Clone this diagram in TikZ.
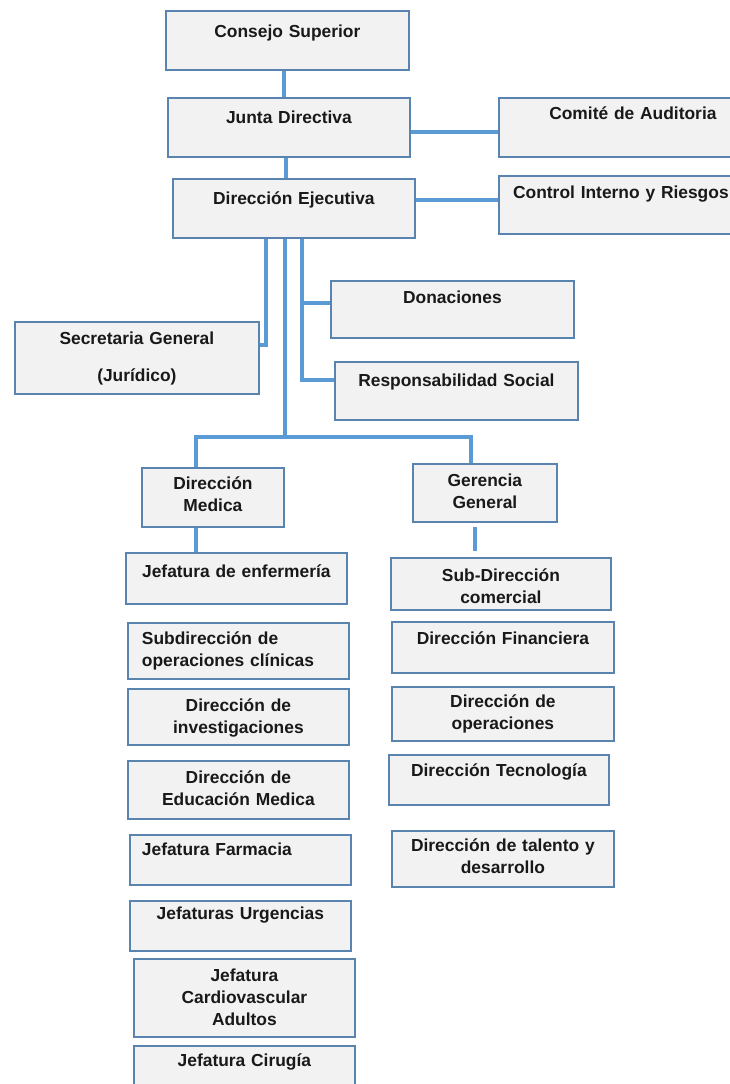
\documentclass[tikz,border=0pt]{standalone}
\usepackage{fontspec}
\setmainfont{Liberation Sans}
\usetikzlibrary{calc}
\definecolor{boxline}{HTML}{5A84B0}
\definecolor{boxfill}{HTML}{F2F2F2}
\definecolor{conncol}{HTML}{5B9BD5}
\begin{document}
\begin{tikzpicture}[x=1pt,y=-1pt,
  box/.style={draw=boxline, line width=1.8pt, fill=boxfill, inner sep=0pt, anchor=north west,
    align=center, font=\fontsize{17.4}{22}\selectfont\bfseries, text=black!90},
  conn/.style={draw=conncol, line width=3.2pt}]
\clip (0,0) rectangle (730,1084);
\fill[white] (0,0) rectangle (730,1084);
% top
\node[box, text width=243pt, text height=27pt, text depth=32pt] (cs) at (165,10) {Consejo Superior};
\node[box, text width=242pt, text height=26pt, text depth=33pt] (jd) at (167,97) {Junta Directiva};
\node[box, text width=268pt, text height=22pt, text depth=37pt] (ca) at (498,97) {Comité de Auditoria};
\node[box, text width=242pt, text height=26pt, text depth=33pt] (de) at (172,178) {Dirección Ejecutiva};
\node[box, text width=244pt, text height=23pt, text depth=35pt] (ci) at (498,175) {Control Interno y Riesgos};
% middle
\node[box, text width=244pt, text height=23pt, text depth=49pt] (sg) at (14,321) {Secretaria General\\[15pt](Jurídico)};
\node[box, text width=243pt, text height=23pt, text depth=34pt] (don) at (330,280) {Donaciones};
\node[box, text width=243pt, text height=25pt, text depth=33pt] (rs) at (334,361) {Responsabilidad Social};
\node[box, text width=142pt, text height=22pt, text depth=37pt] (dm) at (141,467) {Dirección\\Medica};
\node[box, text width=144pt, text height=23pt, text depth=35pt] (gg) at (412,463) {Gerencia\\General};
% left column
\node[box, text width=221pt, text height=25pt, text depth=26pt] (je) at (125,552) {Jefatura de enfermería};
\node[box, align=left, inner xsep=14pt, text width=193pt, text height=22pt, text depth=34pt] (soc) at (127,622) {Subdirección de\\operaciones clínicas};
\node[box, text width=221pt, text height=23pt, text depth=33pt] (di) at (127,688) {Dirección de\\investigaciones};
\node[box, text width=221pt, text height=23pt, text depth=35pt] (dem) at (127,760) {Dirección de\\Educación Medica};
\node[box, align=left, inner xsep=12pt, text width=197pt, text height=21pt, text depth=29pt] (jf) at (129,834) {Jefatura Farmacia};
\node[box, text width=221pt, text height=19pt, text depth=31pt] (ju) at (129,900) {Jefaturas Urgencias};
\node[box, text width=221pt, text height=23pt, text depth=55pt] (jca) at (133,958) {Jefatura\\Cardiovascular\\Adultos};
\node[box, text width=221pt, text height=21pt, text depth=29pt] (jci) at (133,1045) {Jefatura Cirugía};
% right column
\node[box, text width=220pt, text height=24pt, text depth=28pt] (sdc) at (390,557) {Sub-Dirección\\comercial};
\node[box, text width=222pt, text height=23pt, text depth=28pt] (dfin) at (391,621) {Dirección Financiera};
\node[box, text width=222pt, text height=21pt, text depth=33pt] (dop) at (391,686) {Dirección de\\operaciones};
\node[box, text width=220pt, text height=22pt, text depth=28pt] (dtec) at (388,754) {Dirección Tecnología};
\node[box, text width=222pt, text height=21pt, text depth=35pt] (dtal) at (391,830) {Dirección de talento y\\desarrollo};
% connectors
\coordinate (bus) at (285,437);
\coordinate (sgj) at (266,345);
\coordinate (donj) at (302,303);
\coordinate (rsj) at (302,380);
\draw[conn] (cs.south -| 284,0) -- (jd.north -| 284,0);
\draw[conn] (jd.south -| 286,0) -- (de.north -| 286,0);
\draw[conn] (jd.east |- 0,132) -- (ca.west |- 0,132);
\draw[conn] (de.east |- 0,200) -- (ci.west |- 0,200);
\draw[conn] (de.south -| sgj) -- (sgj) -- (sg.east |- sgj);
\draw[conn] (de.south -| rsj) -- (rsj) -- (rs.west |- rsj);
\draw[conn] (donj) -- (don.west |- donj);
\draw[conn] (de.south -| bus) -- (bus);
\draw[conn] (dm.north -| 196,0) -- (196,437) -- (471,437) -- (gg.north -| 471,0);
\draw[conn] (dm.south -| 196,0) -- (je.north -| 196,0);
\draw[conn] ($(gg.south -| 475,0)+(0,4)$) -- ($(sdc.north -| 475,0)+(0,-6)$);
\end{tikzpicture}
\end{document}
